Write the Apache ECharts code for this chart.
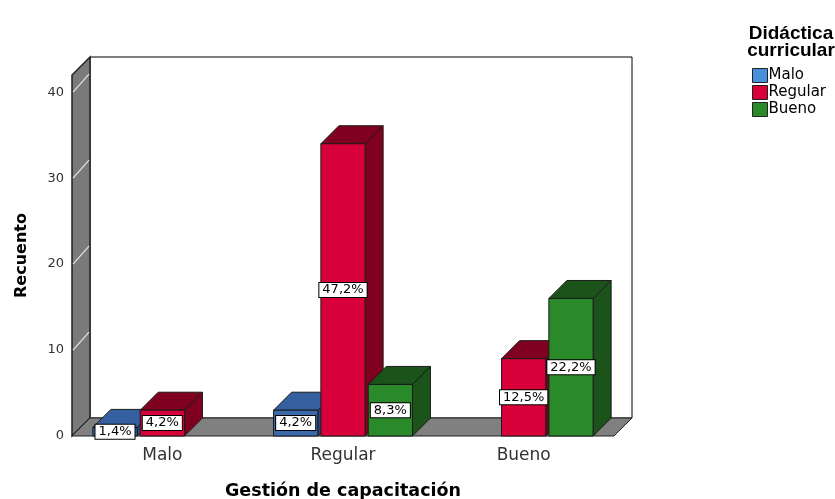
<!DOCTYPE html>
<html>
<head>
<meta charset="utf-8">
<script src="https://cdn.jsdelivr.net/npm/echarts@6/dist/echarts.min.js"></script>
<style>
  html, body { margin: 0; padding: 0; background: #fff; }
  #chart { width: 835px; height: 499px; }
</style>
</head>
<body>
<div id="chart"></div>
<script>
// categorias del eje X (Gestión de capacitación)
var categories = ['Malo', 'Regular', 'Bueno'];
// recuento por nivel de Didáctica curricular
var countMalo = [1, 3, 0];
var countRegular = [3, 34, 9];
var countBueno = [0, 6, 16];
var yTicks = [0, 10, 20, 30, 40];
var total = 72;

var DX = 18, DY = -18; // profundidad 3D
var FONT = '"DejaVu Sans", sans-serif';
var FONT_T = '"Liberation Sans", Arial, sans-serif';

var chart = echarts.init(document.getElementById('chart'));

function pct(v) {
  return (v / total * 100).toFixed(1).replace('.', ',') + '%';
}

function toData(arr) {
  return arr.map(function (v, i) { return [i, v]; });
}

// caja 3D para cada barra
function barRender(offset, front, top, side) {
  return function (params, api) {
    var cat = api.value(0), v = api.value(1);
    if (!v) return null;
    var base = api.coord([cat, 0]);
    var tp = api.coord([cat, v]);
    var band = api.size([1, 0])[0];
    var w = band * 0.245;
    var cx = base[0] + offset * band;
    var x0 = cx - w / 2, x1 = cx + w / 2, y0 = tp[1], y1 = base[1];
    var edge = { stroke: '#1a1a1a', lineWidth: 1 };
    return {
      type: 'group',
      children: [
        { type: 'polygon', shape: { points: [[x1, y0], [x1 + DX, y0 + DY], [x1 + DX, y1 + DY], [x1, y1]] },
          style: echarts.util.extend({ fill: side }, edge) },
        { type: 'polygon', shape: { points: [[x0, y0], [x0 + DX, y0 + DY], [x1 + DX, y0 + DY], [x1, y0]] },
          style: echarts.util.extend({ fill: top }, edge) },
        { type: 'rect', shape: { x: x0, y: y0, width: w, height: y1 - y0 },
          style: echarts.util.extend({ fill: front }, edge) },
        { type: 'text', x: cx, y: (y0 + y1) / 2,
          style: { text: pct(v), align: 'center', verticalAlign: 'middle', fill: '#000',
                   font: '13px ' + FONT, backgroundColor: '#fff', borderColor: '#000',
                   borderWidth: 1, padding: [1, 3, 0, 3] } }
      ]
    };
  };
}

// paredes y piso
function backgroundRender(params, api) {
  var cs = params.coordSys;
  var L = cs.x, R = cs.x + cs.width, T = cs.y, B = cs.y + cs.height;
  var children = [
    { type: 'rect', shape: { x: L + DX, y: T + DY, width: cs.width, height: cs.height },
      style: { fill: '#fff', stroke: '#000', lineWidth: 1 } },
    { type: 'polygon', shape: { points: [[L, B], [L, T], [L + DX, T + DY], [L + DX, B + DY]] },
      style: { fill: '#7a7a7a', stroke: '#222', lineWidth: 1.5 } },
    { type: 'polygon', shape: { points: [[L, B], [R, B], [R + DX, B + DY], [L + DX, B + DY]] },
      style: { fill: '#808080', stroke: '#222', lineWidth: 1 } }
  ];
  yTicks.forEach(function (t) {
    if (!t) return;
    var y = api.coord([0, t])[1];
    children.push({ type: 'line', shape: { x1: L + 1, y1: y, x2: L + DX - 1, y2: y + DY },
      style: { stroke: '#e6e6e6', lineWidth: 1.2 } });
  });
  return { type: 'group', children: children };
}

chart.setOption({
  animation: false,
  textStyle: { fontFamily: FONT },
  title: {
    text: 'Didáctica\ncurricular',
    left: 786, top: 20, textAlign: 'center',
    textStyle: { fontSize: 19, fontWeight: 'bold', color: '#000', lineHeight: 17, fontFamily: FONT_T }
  },
  legend: {
    orient: 'vertical', left: 747, top: 63,
    itemWidth: 15, itemHeight: 14, itemGap: 2,
    textStyle: { fontSize: 15, color: '#000', padding: [0, 0, 0, -4] },
    data: [
      { name: 'Malo', icon: 'rect', itemStyle: { color: '#4a8fdc', borderColor: '#222', borderWidth: 1 } },
      { name: 'Regular', icon: 'rect', itemStyle: { color: '#d8003a', borderColor: '#222', borderWidth: 1 } },
      { name: 'Bueno', icon: 'rect', itemStyle: { color: '#2a8a2a', borderColor: '#222', borderWidth: 1 } }
    ]
  },
  grid: { left: 72, top: 75, width: 542, height: 361, outerBoundsMode: 'none' },
  xAxis: {
    type: 'category', data: categories,
    name: 'Gestión de capacitación', nameLocation: 'middle', nameGap: 46,
    nameTextStyle: { fontSize: 17.5, fontWeight: 'bold', color: '#000' },
    axisLine: { show: false }, axisTick: { show: false },
    axisLabel: { fontSize: 17, color: '#333', margin: 11 }
  },
  yAxis: {
    type: 'value', min: 0, max: 42, interval: 10,
    name: 'Recuento', nameLocation: 'middle', nameGap: 42,
    nameTextStyle: { fontSize: 16, fontWeight: 'bold', color: '#000' },
    axisLine: { show: false }, axisTick: { show: false }, splitLine: { show: false },
    axisLabel: { fontSize: 13, color: '#333', margin: 8,
      formatter: function (v) { return v % 10 === 0 ? v : ''; } }
  },
  series: [
    { type: 'custom', name: 'fondo', silent: true, z: 1, renderItem: backgroundRender, data: [[0, 0]] },
    { type: 'custom', name: 'Malo', z: 2, itemStyle: { color: '#4a8fdc' },
      renderItem: barRender(-0.262, '#3b6aac', '#34609f', '#264a80'), data: toData(countMalo) },
    { type: 'custom', name: 'Regular', z: 2, itemStyle: { color: '#d8003a' },
      renderItem: barRender(0, '#d8003a', '#80001f', '#80001f'), data: toData(countRegular) },
    { type: 'custom', name: 'Bueno', z: 2, itemStyle: { color: '#2a8a2a' },
      renderItem: barRender(0.262, '#2a8a2a', '#1b531b', '#1b531b'), data: toData(countBueno) }
  ]
});
</script>
</body>
</html>
